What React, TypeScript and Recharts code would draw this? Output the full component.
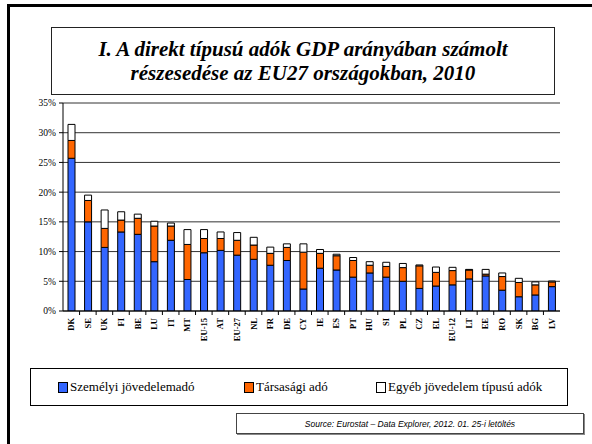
import React from "react";
import { BarChart, Bar, XAxis, YAxis, CartesianGrid } from "recharts";

const categories = ["DK", "SE", "UK", "FI", "BE", "LU", "IT", "MT", "EU-15", "AT", "EU-27", "NL", "FR", "DE", "CY", "IE", "ES", "PT", "HU", "SI", "PL", "CZ", "EL", "EU-12", "LT", "EE", "RO", "SK", "BG", "LV"];
const personal = [25.7, 15.0, 10.7, 13.3, 12.9, 8.3, 11.9, 5.3, 9.8, 10.2, 9.4, 8.7, 7.7, 8.5, 3.7, 7.2, 6.9, 5.7, 6.4, 5.7, 5.0, 3.8, 4.2, 4.4, 5.4, 5.9, 3.5, 2.4, 2.7, 4.1];
const corporate = [3.0, 3.6, 3.2, 2.0, 2.7, 6.0, 2.4, 5.9, 2.4, 2.0, 2.5, 2.4, 2.0, 2.2, 6.2, 2.5, 2.4, 2.8, 1.3, 1.8, 2.3, 3.8, 2.3, 2.4, 1.5, 0.3, 2.3, 2.4, 1.7, 0.8];
const other = [2.7, 0.9, 3.1, 1.4, 0.7, 0.8, 0.5, 2.5, 1.5, 1.1, 1.3, 1.3, 1.05, 0.6, 1.4, 0.65, 0.25, 0.5, 0.6, 0.7, 0.7, 0.15, 0.9, 0.55, 0.1, 0.8, 0.6, 0.7, 0.5, 0.15];
const yTicks = [0, 5, 10, 15, 20, 25, 30, 35];

const seriesNames = ["Személyi jövedelemadó", "Társasági adó", "Egyéb jövedelem típusú adók"];
const seriesColors = ["#3366ff", "#ff6600", "#ffffff"];

const data = categories.map((c, i) => ({
  cat: c,
  personal: personal[i],
  corporate: corporate[i],
  other: other[i],
}));

const SERIF = "'Times New Roman', 'Liberation Serif', 'DejaVu Serif', serif";
const W = 592;
const H = 444;
const PLOT_LEFT = 63;
const PLOT_RIGHT = 560;
const BAND = (PLOT_RIGHT - PLOT_LEFT) / categories.length;

function CatTick(props: any) {
  const { x, y, payload, index } = props;
  const tx = x + BAND / 2;
  return (
    <g>
      {index < categories.length - 1 && (
        <line x1={tx} x2={tx} y1={y} y2={y + 4} stroke="#000" />
      )}
      <text
        x={x}
        y={y + 7}
        transform={`rotate(-90, ${x}, ${y + 7})`}
        textAnchor="end"
        dy={3}
        style={{ fontFamily: SERIF, fontWeight: "bold", fontSize: 8.5 }}
        fill="#000"
      >
        {payload.value}
      </text>
    </g>
  );
}

export default function App() {
  return (
    <div style={{ position: "fixed", left: 0, top: 0, width: W, height: H, background: "#fff", overflow: "hidden", fontFamily: SERIF }}>
      <div style={{ position: "absolute", left: 7, top: 4, width: 640, height: 500, border: "3px solid #000" }} />
      <div
        style={{
          position: "absolute", left: 51, top: 27, width: 502, height: 66,
          border: "1px solid #222", display: "flex", alignItems: "center", justifyContent: "center",
          fontFamily: SERIF, fontStyle: "italic", fontWeight: "bold", fontSize: 21, lineHeight: "24px", textAlign: "center",
        }}
      >
        <div>
          I. A direkt típusú adók GDP arányában számolt
          <br />
          részesedése az EU27 országokban, 2010
        </div>
      </div>
      <div style={{ position: "absolute", left: 0, top: 0 }}>
        <BarChart width={W} height={H} data={data} margin={{ top: 103, right: W - PLOT_RIGHT, bottom: 93, left: 23 }} style={{ fontFamily: SERIF }}>
          <CartesianGrid yAxisId="l" horizontal vertical={false} stroke="#333" ticks={yTicks} />
          <XAxis
            dataKey="cat"
            yAxisId="l"
            interval={0}
            height={40}
            tickLine={false}
            tickSize={0}
            tickMargin={0}
            axisLine={{ stroke: "#000" }}
            tick={<CatTick />}
          />
          <YAxis
            yAxisId="l"
            width={40}
            domain={[0, 35]}
            ticks={yTicks}
            tickFormatter={(v: number) => `${v}%`}
            tick={{ fontSize: 9.5, fill: "#000", fontFamily: SERIF }}
            tickSize={4}
            tickMargin={3}
            tickLine={{ stroke: "#000" }}
            axisLine={{ stroke: "#000" }}
            allowDataOverflow
          />
          <YAxis yAxisId="r" orientation="right" width={0} domain={[0, 35]} tick={false} tickLine={false} axisLine={{ stroke: "#000" }} />
          <Bar yAxisId="l" dataKey="personal" name={seriesNames[0]} stackId="a" fill={seriesColors[0]} stroke="#000" strokeWidth={1} barSize={7} isAnimationActive={false} />
          <Bar yAxisId="l" dataKey="corporate" name={seriesNames[1]} stackId="a" fill={seriesColors[1]} stroke="#000" strokeWidth={1} barSize={7} isAnimationActive={false} />
          <Bar yAxisId="l" dataKey="other" name={seriesNames[2]} stackId="a" fill={seriesColors[2]} stroke="#000" strokeWidth={1} barSize={7} isAnimationActive={false} />
        </BarChart>
      </div>
      <div
        style={{
          position: "absolute", left: 30, top: 368, width: 536, height: 36, border: "1px solid #000",
          fontFamily: SERIF, fontSize: 13, display: "flex", alignItems: "center",
        }}
      >
        {seriesNames.map((n, i) => (
          <div key={n} style={{ position: "absolute", left: [27, 213, 345][i], display: "flex", alignItems: "center" }}>
            <span style={{ display: "inline-block", width: 8, height: 9, background: seriesColors[i], border: "1px solid #000", marginRight: 2 }} />
            <span>{n}</span>
          </div>
        ))}
      </div>
      <div
        style={{
          position: "absolute", left: 236, top: 413, width: 346, height: 19, border: "1px solid #444",
          boxShadow: "1px 1px 0 #888",
          fontFamily: "'Liberation Sans', Arial, sans-serif", fontStyle: "italic", fontSize: 8.5,
          display: "flex", alignItems: "center", justifyContent: "center",
        }}
      >
        Source: Eurostat – Data Explorer, 2012. 01. 25-i letöltés
      </div>
    </div>
  );
}
